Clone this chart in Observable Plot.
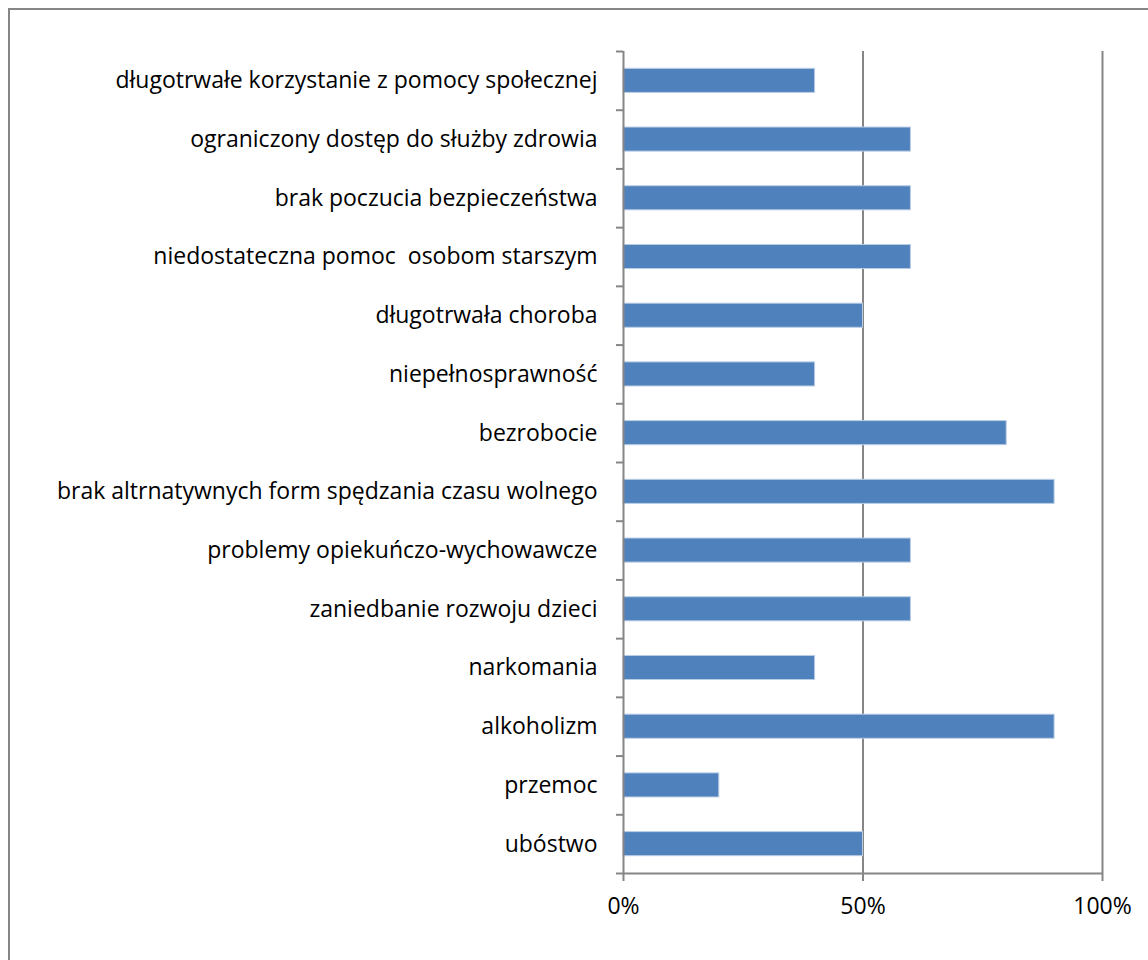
<!DOCTYPE html>
<html>
<head>
<meta charset="utf-8">
<script src="https://cdn.jsdelivr.net/npm/d3@7"></script>
<script src="https://cdn.jsdelivr.net/npm/@observablehq/plot@0.6"></script>
<style>
  html, body { margin: 0; padding: 0; background: #fff; }
  #wrap { position: relative; width: 1148px; height: 960px; overflow: hidden; }
  #border { position: absolute; left: 8px; top: 8px; width: 1300px; height: 1100px; border: 2px solid #868686; box-sizing: border-box; }
  #chart { position: absolute; left: 0; top: 0; }
</style>
</head>
<body>
<div id="wrap"><div id="border"></div><div id="chart"></div></div>
<script>
const categories = [
  "długotrwałe korzystanie z pomocy społecznej",
  "ograniczony dostęp do służby zdrowia",
  "brak poczucia bezpieczeństwa",
  "niedostateczna pomoc  osobom starszym",
  "długotrwała choroba",
  "niepełnosprawność",
  "bezrobocie",
  "brak altrnatywnych form spędzania czasu wolnego",
  "problemy opiekuńczo-wychowawcze",
  "zaniedbanie rozwoju dzieci",
  "narkomania",
  "alkoholizm",
  "przemoc",
  "ubóstwo"
];
const values = [0.40, 0.60, 0.60, 0.60, 0.50, 0.40, 0.80, 0.90, 0.60, 0.60, 0.40, 0.90, 0.20, 0.50];
const xTicks = [0, 0.5, 1];

const data = categories.map((c, i) => ({category: c, value: values[i]}));

const W = 1148, H = 960;
const mL = 623, mR = 46, mT = 51, mB = 87;
const step = (H - mT - mB) / categories.length;
const tickFrac = -7 / (W - mL - mR);
const gray = "#868686";
const font = "Open Sans, Calibri, sans-serif";
const fs = 23;

const chart = Plot.plot({
  width: W,
  height: H,
  marginLeft: mL,
  marginRight: mR,
  marginTop: mT,
  marginBottom: mB,
  style: {fontFamily: font, fontSize: fs + "px", color: "#000", background: "transparent"},
  x: {domain: [0, 1]},
  y: {domain: categories, paddingInner: 0.59, paddingOuter: 0.295, round: false},
  marks: [
    Plot.ruleX(xTicks.filter(d => d > 0), {stroke: gray, strokeWidth: 2}),
    Plot.barX(data, {x: "value", y: "category", fill: "#4f81bd", stroke: "#b9cde5", strokeWidth: 1}),
    Plot.ruleX([0], {stroke: gray, strokeWidth: 2}),
    Plot.ruleY(categories, {y: d => d, x1: tickFrac, x2: 0, dy: -step / 2, stroke: gray, strokeWidth: 2}),
    Plot.ruleY(categories.slice(-1), {y: d => d, x1: tickFrac, x2: 1, dy: step / 2, stroke: gray, strokeWidth: 2}),
    Plot.axisY({tickSize: 0, tickPadding: 26, label: null, fill: "#000", fontSize: fs}),
    Plot.axisX({ticks: xTicks, tickFormat: d3.format(".0%"), tickSize: 8, tickPadding: 16, label: null, stroke: gray, strokeWidth: 2, fill: "#000", fontSize: fs})
  ]
});
document.getElementById("chart").appendChild(chart);
</script>
</body>
</html>
